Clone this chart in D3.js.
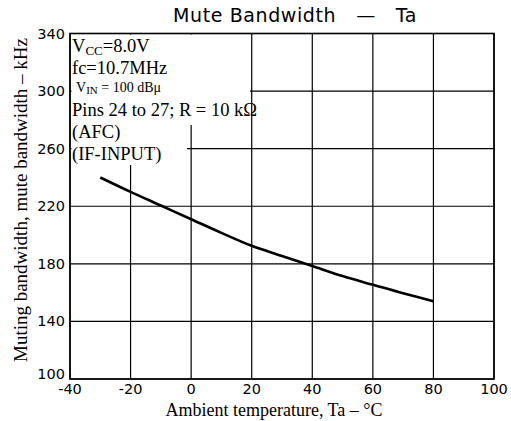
<!DOCTYPE html>
<html><head><meta charset="utf-8">
<script src="https://cdn.jsdelivr.net/npm/d3@7"></script>
<style>body{margin:0;background:#fff}svg{display:block}text{white-space:pre}</style>
</head><body>
<script>
const temps = [-30,-20,-10,0,10,20,30,40,50,60,70,80];
const bandwidth = [240,230,220.5,211,201.5,192.5,185.5,178.5,171.5,165.5,159.5,154];
const xTicks = [-40,-20,0,20,40,60,80,100];
const yTicks = [100,140,180,220,260,300,340];
const notes = ["VCC=8.0V","fc=10.7MHz","VIN = 100 dBμ","Pins 24 to 27; R = 10 kΩ","(AFC)","(IF-INPUT)"];

const W=511,H=421;
const svg=d3.select("body").append("svg").attr("width",W).attr("height",H);
const x=d3.scaleLinear().domain([-40,100]).range([70,494]);
const y=d3.scaleLinear().domain([100,340]).range([379,33.5]);
const sans="'DejaVu Sans', sans-serif", serif="'Liberation Serif', 'Times New Roman', serif";

// grid
const g=svg.append("g");
g.selectAll(".vg").data(xTicks).join("line")
 .attr("x1",d=>x(d)).attr("x2",d=>x(d)).attr("y1",y(340)).attr("y2",y(100))
 .attr("stroke","#000").attr("stroke-width",1.2);
g.selectAll(".hg").data(yTicks).join("line")
 .attr("x1",x(-40)).attr("x2",x(100)).attr("y1",d=>y(d)).attr("y2",d=>y(d))
 .attr("stroke","#000").attr("stroke-width",1.2);
// white mask behind annotation
svg.append("rect").attr("x",x(-40)+1.5).attr("y",y(340)+1).attr("width",250-x(-40)-1.5).attr("height",125-y(340)-1).attr("fill","#fff");
svg.append("rect").attr("x",x(-40)+1.5).attr("y",124).attr("width",187-x(-40)-1.5).attr("height",41).attr("fill","#fff");
// frame
svg.append("rect").attr("x",x(-40)).attr("y",y(340)).attr("width",x(100)-x(-40)).attr("height",y(100)-y(340))
 .attr("fill","none").attr("stroke","#000").attr("stroke-width",1.6);

// curve
svg.append("path").datum(temps.map((t,i)=>[t,bandwidth[i]]))
 .attr("d",d3.line().x(d=>x(d[0])).y(d=>y(d[1])).curve(d3.curveMonotoneX))
 .attr("fill","none").attr("stroke","#000").attr("stroke-width",2.6);

// tick labels
svg.selectAll(".xl").data(xTicks).join("text")
 .attr("x",d=>x(d)).attr("y",394).attr("text-anchor","middle")
 .attr("font-family",sans).attr("font-size",14.5).text(d=>d);
svg.selectAll(".yl").data(yTicks).join("text")
 .attr("x",65).attr("y",d=>y(d)+(d===100?0:5)).attr("text-anchor","end")
 .attr("font-family",sans).attr("font-size",14.5).text(d=>d);

// title
svg.append("text").attr("x",295).attr("y",22).attr("text-anchor","middle")
 .attr("font-family",sans).attr("font-size",19).attr("letter-spacing",0.6).text("Mute Bandwidth   \u2014   Ta");

// axis titles
svg.append("text").attr("x",274).attr("y",416).attr("text-anchor","middle")
 .attr("font-family",serif).attr("font-size",18).text("Ambient temperature, Ta \u2013 °C");
svg.append("text").attr("transform","translate(27,200) rotate(-90)").attr("text-anchor","middle")
 .attr("font-family",serif).attr("font-size",19).text("Muting bandwidth, mute bandwidth \u2013 kHz");

// annotations
const ann=svg.append("g").attr("font-family",serif).attr("fill","#000");
const t0=ann.append("text").attr("x",72).attr("y",52).attr("font-size",18.5);
t0.append("tspan").text("V");
t0.append("tspan").attr("font-size",13).attr("dy",3).text("CC");
t0.append("tspan").attr("dy",-3).text("=8.0V");
ann.append("text").attr("x",72).attr("y",74).attr("font-size",18.5).text(notes[1]);
const t2=ann.append("text").attr("x",76).attr("y",92).attr("font-size",14);
t2.append("tspan").text("V");
t2.append("tspan").attr("font-size",11).attr("dy",2).text("IN");
t2.append("tspan").attr("dy",-2).text(" = 100 dBμ");
ann.append("text").attr("x",72).attr("y",116).attr("font-size",18.5).text(notes[3]);
ann.append("text").attr("x",72).attr("y",138).attr("font-size",18.5).text(notes[4]);
ann.append("text").attr("x",72).attr("y",160).attr("font-size",18.5).text(notes[5]);
</script>
</body></html>
